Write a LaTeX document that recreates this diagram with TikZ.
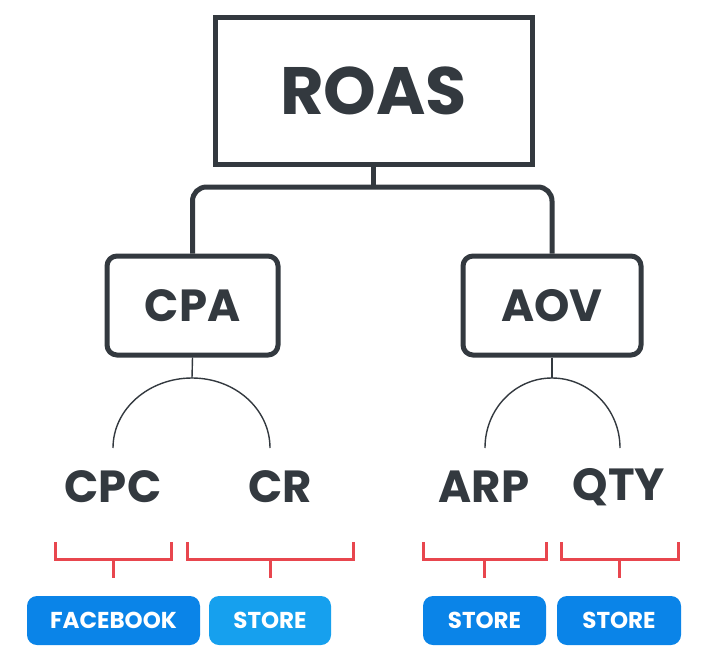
\documentclass[tikz,border=0pt]{standalone}
\usepackage{fontspec}
\setmainfont{Poppins}
\definecolor{dk}{HTML}{33393F}
\definecolor{rd}{HTML}{E8464E}
\definecolor{bl}{HTML}{0A84E8}
\definecolor{bl2}{HTML}{16A0EE}
\begin{document}
\begin{tikzpicture}[x=1pt,y=-1pt,
  box/.style={draw=dk,line width=5pt,text=dk,font=\fontsize{45}{50}\selectfont\bfseries,inner sep=0pt},
  lbl/.style={text=dk,font=\fontsize{45}{50}\selectfont\bfseries,inner sep=0pt},
  conn/.style={draw=dk,line width=5pt},
  thin/.style={draw=dk,line width=1.4pt},
  brk/.style={draw=rd,line width=3pt},
  btn/.style={fill=bl,rounded corners=10pt,text=white,font=\fontsize{23}{26}\selectfont\bfseries,minimum height=49pt,inner sep=0pt}]
\useasboundingbox (0,0) rectangle (712,653);
\fill[white] (0,0) rectangle (712,653);
% top box
\node[box,minimum width=317pt,minimum height=147pt,font=\fontsize{67}{75}\selectfont\bfseries] (roas) at (373.5,90.5) {ROAS};
\node[box,rounded corners=10pt,minimum width=171pt,minimum height=99pt] (cpa) at (192.5,305.5) {CPA};
\node[box,rounded corners=10pt,minimum width=178pt,minimum height=99pt] (aov) at (552,305.5) {AOV};
\coordinate (bar) at (373.5,187);
\draw[conn] (roas.south) -- (bar);
\draw[conn,rounded corners=14pt] (cpa.north) -- (cpa.north |- bar) -- (aov.north |- bar) -- (aov.north);
% labels
\node[lbl] (cpc) at (113,487) {CPC};
\node[lbl] (cr) at (280,487) {CR};
\node[lbl] (arp) at (484,487) {ARP};
\node[lbl] (qty) at (619,487) {QTY};
% arcs
\coordinate (ca) at (192,378);
\coordinate (cl) at (113,448);
\coordinate (cr2) at (270,448);
\draw[thin] (cpa.south) -- (ca);
\draw[thin] (cl) .. controls (113,409) and (149,378) .. (ca) .. controls (235,378) and (270,409) .. (cr2);
\coordinate (aa) at (552,378);
\coordinate (al) at (485,448);
\coordinate (ar) at (620,448);
\draw[thin] (aov.south) -- (aa);
\draw[thin] (al) .. controls (485,409) and (515,378) .. (aa) .. controls (589,378) and (620,409) .. (ar);
% buttons
\node[btn,minimum width=173pt] (fb) at (113.5,620.5) {FACEBOOK};
\node[btn,fill=bl2,minimum width=122pt] (st1) at (270,620.5) {STORE};
\node[btn,minimum width=123pt] (st2) at (484.5,620.5) {STORE};
\node[btn,minimum width=124pt] (st3) at (619,620.5) {STORE};
% brackets
\foreach \a/\b/\m/\n in {55/171/113/fb,187/353/270/st1,423/546/484/st2,561/678/619/st3}{
  \draw[brk] (\a,542) -- (\a,559) -- (\b,559) -- (\b,542);
  \draw[brk] (\m,559) -- (\m,578);
}
\end{tikzpicture}
\end{document}
